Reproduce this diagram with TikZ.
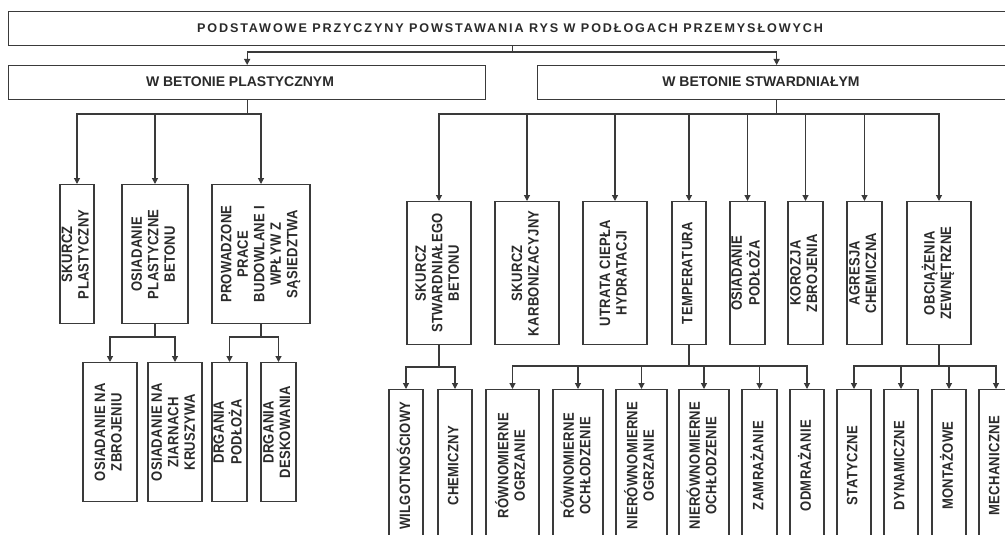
\documentclass[tikz,border=0pt]{standalone}
\usepackage{fontspec}
\setmainfont{Liberation Sans}
\newfontfamily\titlefont[LetterSpace=15]{Liberation Sans}
\newfontfamily\boxfont[FakeStretch=0.87,LetterSpace=2]{Liberation Sans}
\usetikzlibrary{arrows.meta}
\definecolor{ink}{HTML}{2A2A2A}
\definecolor{edge}{HTML}{3A3A3A}
\tikzset{
  frame/.style={draw=edge, line width=1.3pt, rectangle, inner sep=0pt},
  vbox/.style={frame, anchor=north, text=ink, font=\boxfont\bfseries\fontsize{15}{16.5}\selectfont},
  conn/.style={draw=edge, line width=1.2pt},
  arr/.style={conn, -{Triangle[length=6pt,width=6pt]}},
  lbl/.style={text=ink, inner sep=0pt},
}
\newcommand{\mybox}[6]{\node[vbox, minimum width=#4, minimum height=#5] (#1) at (#2,#3) {\rotatebox{90}{\begin{tabular}{@{}c@{}}#6\end{tabular}}};}
\begin{document}
\begin{tikzpicture}[x=1pt,y=-1pt]
\useasboundingbox (0,0) rectangle (1005,535);
\clip (0,0) rectangle (1005,535);
% level 0
\node[frame, minimum width=1008, minimum height=34, anchor=north west] (top) at (8,11) {};
\node[lbl, font=\titlefont\bfseries\fontsize{12.6}{14}\selectfont] (topt) at (510,28) {PODSTAWOWE PRZYCZYNY POWSTAWANIA RYS W PODŁOGACH PRZEMYSŁOWYCH};
% level 1
\node[frame, minimum width=477, minimum height=34, anchor=north west] (L1) at (8,65) {};
\node[lbl, font=\bfseries\fontsize{14}{16}\selectfont] (L1t) at (240,82) {W BETONIE PLASTYCZNYM};
\node[frame, minimum width=478, minimum height=34, anchor=north west] (R1) at (537,65) {};
\node[lbl, font=\bfseries\fontsize{14}{16}\selectfont] (R1t) at (761,82) {W BETONIE STWARDNIAŁYM};
% level 2 left
\mybox{a1}{77}{184}{34}{139}{SKURCZ\\PLASTYCZNY}
\mybox{a2}{155}{184}{66}{139}{OSIADANIE\\PLASTYCZNE\\BETONU}
\mybox{a3}{261}{184}{98}{139}{PROWADZONE\\PRACE\\BUDOWLANE I\\WPŁYW Z\\SĄSIEDZTWA}
% level 3 left
\mybox{b1}{110}{362}{54}{139}{OSIADANIE NA\\ZBROJENIU}
\mybox{b2}{175}{362}{54}{139}{OSIADANIE NA\\ZIARNACH\\KRUSZYWA}
\mybox{b3}{229.5}{362}{35}{139}{DRGANIA\\PODŁOŻA}
\mybox{b4}{278.5}{362}{35}{139}{DRGANIA\\DESKOWANIA}
% level 2 right
\mybox{c1}{439}{201}{64}{143}{SKURCZ\\STWARDNIAŁEGO\\BETONU}
\mybox{c2}{527}{201}{64}{143}{SKURCZ\\KARBONIZACYJNY}
\mybox{c3}{615}{201}{64}{143}{UTRATA CIEPŁA\\HYDRATACJI}
\mybox{c4}{689}{201}{34}{143}{TEMPERATURA}
\mybox{c5}{747.5}{201}{35}{143}{OSIADANIE\\PODŁOŻA}
\mybox{c6}{805.5}{201}{35}{143}{KOROZJA\\ZBROJENIA}
\mybox{c7}{864.5}{201}{35}{143}{AGRESJA\\CHEMICZNA}
\mybox{c8}{939}{201}{64}{143}{OBCIĄŻENIA\\ZEWNĘTRZNE}
% level 3 right
\mybox{d1}{406}{389}{34}{152}{WILGOTNOŚCIOWY}
\mybox{d2}{455}{389}{34}{152}{CHEMICZNY}
\mybox{e1}{512.5}{389}{53}{152}{RÓWNOMIERNE\\OGRZANIE}
\mybox{e2}{578}{389}{50}{152}{RÓWNOMIERNE\\OCHŁODZENIE}
\mybox{e3}{641.5}{389}{51}{152}{NIERÓWNOMIERNE\\OGRZANIE}
\mybox{e4}{704}{389}{50}{152}{NIERÓWNOMIERNE\\OCHŁODZENIE}
\mybox{e5}{759.5}{389}{35}{152}{ZAMRAŻANIE}
\mybox{e6}{807}{389}{34}{152}{ODMRAŻANIE}
\mybox{f1}{854}{389}{34}{152}{STATYCZNE}
\mybox{f2}{901}{389}{34}{152}{DYNAMICZNE}
\mybox{f3}{949}{389}{34}{152}{MONTAŻOWE}
\mybox{f4}{996}{389}{34}{152}{MECHANICZNE}
% connectors
\draw[conn] (top.south) -- (top.south |- 0,52) coordinate (j0);
\draw[arr] (j0) -| (L1.north);
\draw[arr] (j0) -| (R1.north);
\draw[conn] (L1.south) -- (L1.south |- 0,114) coordinate (jL);
\foreach \c in {a1,a2,a3} \draw[arr] (jL) -| (\c.north);
\draw[conn] (R1.south) -- (R1.south |- 0,114) coordinate (jR);
\foreach \c in {c1,c2,c3,c4,c5,c6,c7,c8} \draw[arr] (jR) -| (\c.north);
\draw[conn] (a2.south) -- (a2.south |- 0,337) coordinate (ja2);
\foreach \c in {b1,b2} \draw[arr] (ja2) -| (\c.north);
\draw[conn] (a3.south) -- (a3.south |- 0,337) coordinate (ja3);
\foreach \c in {b3,b4} \draw[arr] (ja3) -| (\c.north);
\draw[conn] (c1.south) -- (c1.south |- 0,367) coordinate (jc1);
\foreach \c in {d1,d2} \draw[arr] (jc1) -| (\c.north);
\draw[conn] (c4.south) -- (c4.south |- 0,366) coordinate (jc4);
\foreach \c in {e1,e2,e3,e4,e5,e6} \draw[arr] (jc4) -| (\c.north);
\draw[conn] (c8.south) -- (c8.south |- 0,366) coordinate (jc8);
\foreach \c in {f1,f2,f3,f4} \draw[arr] (jc8) -| (\c.north);
\end{tikzpicture}
\end{document}
